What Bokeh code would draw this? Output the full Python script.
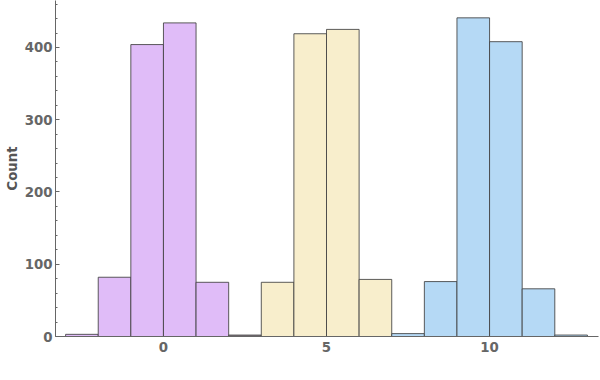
from bokeh.plotting import figure
from bokeh.embed import file_html
from bokeh.resources import INLINE
from bokeh.models import Range1d, FixedTicker

# bin left edges (bin width 1) and counts per series
purple_left = [-3, -2, -1, 0, 1, 2]
purple_count = [3, 82, 404, 434, 75, 2]
yellow_left = [2, 3, 4, 5, 6, 7]
yellow_count = [1, 75, 419, 425, 79, 1]
blue_left = [7, 8, 9, 10, 11, 12]
blue_count = [4, 76, 441, 408, 66, 2]
bin_width = 1
x_ticks = [0, 5, 10]
y_ticks = [0, 100, 200, 300, 400]

p = figure(width=600, height=368, output_backend="svg", toolbar_location=None,
           x_range=Range1d(-3.31, 13.34), y_range=Range1d(0, 465),
           min_border_left=55, min_border_right=2, min_border_top=0, min_border_bottom=32)
p.outline_line_color = None
p.grid.visible = False

series = [(purple_left, purple_count, "#e0bcf8"),
          (yellow_left, yellow_count, "#f8eecc"),
          (blue_left, blue_count, "#b5d9f5")]
for lefts, counts, col in series:
    p.quad(left=lefts, right=[l + bin_width for l in lefts], bottom=0, top=counts,
           fill_color=col, line_color="#404040", line_alpha=0.85, line_width=1)

grey = "#666666"
for ax in (p.xaxis[0], p.yaxis[0]):
    ax.axis_line_color = grey
    ax.major_tick_line_color = grey
    ax.minor_tick_line_color = grey
    ax.major_label_text_color = grey
    ax.major_label_text_font = "DejaVu Sans"
    ax.major_label_text_font_style = "bold"
    ax.major_label_text_font_size = "10pt"

p.xaxis.ticker = FixedTicker(ticks=x_ticks)
p.xaxis.major_tick_in = 0
p.xaxis.major_tick_out = 0
p.xaxis.minor_tick_in = 0
p.xaxis.minor_tick_out = 0
p.xaxis.major_label_standoff = 5

p.yaxis.ticker = FixedTicker(ticks=y_ticks, minor_ticks=list(range(0, 470, 20)))
p.yaxis.major_tick_in = 4
p.yaxis.major_tick_out = 0
p.yaxis.minor_tick_in = 2
p.yaxis.minor_tick_out = 0
p.yaxis.major_label_standoff = 3
p.yaxis.axis_label = "Count"
p.yaxis.axis_label_text_font = "DejaVu Sans"
p.yaxis.axis_label_text_font_style = "bold"
p.yaxis.axis_label_text_font_size = "10pt"
p.yaxis.axis_label_text_color = "#555555"
p.yaxis.axis_label_standoff = 2

open("out.html", "w").write(file_html(p, INLINE))
